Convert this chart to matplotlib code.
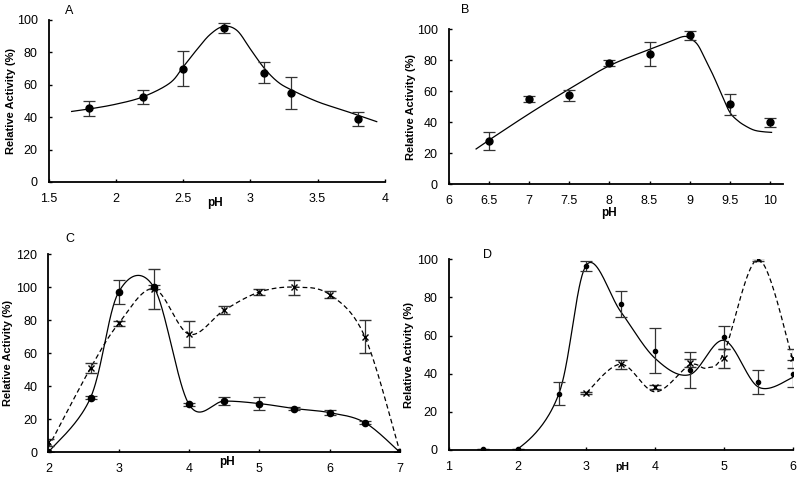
import numpy as np
import matplotlib
matplotlib.use('Agg')
import matplotlib.pyplot as plt

plt.rcParams['font.family'] = ['Liberation Sans', 'DejaVu Sans']

# Panel A
a_ph = [1.8, 2.2, 2.5, 2.8, 3.1, 3.3, 3.8]
a_act = [45.5, 52.5, 70, 95, 67.5, 55, 39]
a_err = [4.5, 4.5, 11, 3, 6.5, 10, 4.2]
a_fit_x = [1.67, 1.8, 2.0, 2.2, 2.4, 2.5, 2.6, 2.7, 2.8, 2.9, 3.0, 3.1, 3.2, 3.3, 3.5, 3.7, 3.94]
a_fit_y = [43.5, 45, 48, 52.5, 61, 71, 81.5, 91, 96, 93.5, 82, 70.5, 62, 57, 49.5, 44, 37.2]

# Panel B
b_ph = [6.5, 7, 7.5, 8, 8.5, 9, 9.5, 10]
b_act = [28, 55, 57.5, 78, 84, 96, 51.5, 40]
b_err = [6, 2, 3.5, 2, 7.5, 3, 7, 3]
b_fit_x = [6.34, 6.5, 7, 7.5, 8, 8.5, 8.75, 8.92, 9.0, 9.1, 9.2, 9.3, 9.4, 9.5, 9.6, 9.7, 9.8, 9.9, 10.02]
b_fit_y = [22.8, 28.5, 45.5, 61.5, 76.5, 87, 92, 95.3, 94.2, 90, 80, 69.5, 57.5, 46.5, 41, 37.5, 35, 34, 33.5]

# Panel C
c_ph = [2, 2.6, 3, 3.5, 4, 4.5, 5, 5.5, 6, 6.5, 7]
c_dot = [0, 33, 97, 100, 29, 31, 29.5, 26.5, 24, 18, 0]
c_dot_err = [0, 1, 7, 1, 1, 2.5, 4, 1, 1.5, 1, 0]
c_cross = [6, 51, 78, 99, 71.5, 86, 97, 100, 95.5, 70, 0]
c_cross_err = [2, 3, 1.5, 12, 8, 2.5, 2, 4.5, 2, 10, 0]
c_dash_x = [2, 2.6, 3, 3.5, 4, 4.5, 5, 5.5, 6, 6.5, 7]
c_dash_y = [3, 51, 78, 99, 71.5, 86, 97, 100, 95.5, 70, 0]

# Panel D
d_dot_ph = [1.5, 2, 2.6, 3, 3.5, 4, 4.5, 5, 5.5, 6]
d_dot = [0.7, 0.5, 29.5, 96.5, 76.5, 52, 42, 59, 35.5, 40]
d_dot_err = [0, 0, 6, 2.8, 7, 11.8, 9.5, 6, 6.3, 7]
d_cross_ph = [3, 3.5, 4, 4.5, 5, 5.5, 6]
d_cross = [30, 45, 33, 45.5, 48, 100, 48]
d_cross_err = [0.5, 2.3, 1, 2, 5, 0.8, 5]
d_solid_x = [1.5, 2, 2.6, 3, 3.5, 4, 4.5, 5, 5.5, 6]
d_solid_y = [0.5, 0.5, 29.5, 97, 72.5, 48, 39.5, 57.5, 33, 38]
d_dash_x = [3, 3.5, 4, 4.5, 4.75, 5, 5.5, 6]
d_dash_y = [30, 45, 30.5, 44.5, 43, 51, 100, 47.5]


# Excel-style smoothed line (Bezier through the knots)
def smooth(xs, ys, n=40):
    P = np.column_stack([xs, ys]).astype(float)
    E = np.vstack([P[0], P, P[-1]])
    t = np.linspace(0, 1, n)[:, None]
    segs = []
    for i in range(len(P) - 1):
        p0, p1, p2, p3 = E[i], E[i + 1], E[i + 2], E[i + 3]
        c1 = p1 + (p2 - p0) / 6
        c2 = p2 - (p3 - p1) / 6
        segs.append((1 - t)**3 * p1 + 3 * (1 - t)**2 * t * c1 + 3 * (1 - t) * t**2 * c2 + t**3 * p2)
    s = np.vstack(segs)
    return s[:, 0], s[:, 1]


def style(ax, xlim, ylim, xticks, yticks, labx):
    ax.set_xlim(*xlim)
    ax.set_ylim(*ylim)
    ax.set_xticks(xticks)
    ax.set_xticklabels(['%g' % v for v in xticks])
    ax.set_yticks(yticks)
    for s in ['top', 'right']:
        ax.spines[s].set_visible(False)
    for s in ['left', 'bottom']:
        ax.spines[s].set_linewidth(1.3)
    ax.tick_params(direction='in', length=2.5, width=1, labelsize=9, pad=8)
    ax.set_ylabel('Relative Activity (%)', fontsize=8, fontweight='bold', va='center')
    ax.yaxis.set_label_coords(labx, 0.5)


fig = plt.figure(figsize=(8, 4.8), dpi=100)
ekw = dict(ecolor='#333333', elinewidth=0.9, capsize=4.5, capthick=0.9, linestyle='none')
dash = (0, (3.8, 2.4))

# A
ax = fig.add_axes([0.061, 0.621, 0.42, 0.3375])
ax.plot(*smooth(a_fit_x, a_fit_y), color='black', lw=0.9)
ax.errorbar(a_ph, a_act, yerr=a_err, marker='o', ms=5, color='black', **ekw)
style(ax, (1.5, 4), (0, 100), [1.5, 2, 2.5, 3, 3.5, 4], range(0, 101, 20), -0.113)
fig.text(69 / 800, 1 - 11 / 480, 'A', fontsize=9, ha='center', va='center')
fig.text(215 / 800, 1 - 203 / 480, 'pH', fontsize=8.5, fontweight='bold', ha='center', va='center')

# B
ax = fig.add_axes([0.561, 0.616, 0.4175, 0.323])
ax.plot(*smooth(b_fit_x, b_fit_y), color='black', lw=0.9)
ax.errorbar(b_ph, b_act, yerr=b_err, marker='o', ms=5, color='black', **ekw)
style(ax, (6, 10.16), (0, 100), [6, 6.5, 7, 7.5, 8, 8.5, 9, 9.5, 10], range(0, 101, 20), -0.114)
fig.text(465 / 800, 1 - 10 / 480, 'B', fontsize=9, ha='center', va='center')
fig.text(609 / 800, 1 - 213 / 480, 'pH', fontsize=8.5, fontweight='bold', ha='center', va='center')

# C
ax = fig.add_axes([0.0604, 0.0577, 0.4396, 0.413])
ax.plot(*smooth(c_ph, c_dot), color='black', lw=0.9)
ax.plot(*smooth(c_dash_x, c_dash_y), color='black', lw=0.9, ls=dash)
ax.errorbar(c_ph, c_dot, yerr=c_dot_err, marker='o', ms=4.5, color='black', **ekw)
ax.errorbar(c_ph, c_cross, yerr=c_cross_err, marker='x', ms=4, mew=1, color='black', **ekw)
style(ax, (2, 7), (0, 120), [2, 3, 4, 5, 6, 7], range(0, 121, 20), -0.114)
fig.text(70 / 800, 1 - 239 / 480, 'C', fontsize=9, ha='center', va='center')
fig.text(227 / 800, 1 - 462 / 480, 'pH', fontsize=8.5, fontweight='bold', ha='center', va='center')

# D
ax = fig.add_axes([0.561, 0.0625, 0.43, 0.3973])
ax.plot(*smooth(d_solid_x, d_solid_y), color='black', lw=0.9)
ax.plot(*smooth(d_dash_x, d_dash_y), color='black', lw=0.9, ls=dash)
ax.errorbar(d_dot_ph, d_dot, yerr=d_dot_err, marker='o', ms=3, color='black', **ekw)
ax.errorbar(d_cross_ph, d_cross, yerr=d_cross_err, marker='x', ms=4, mew=1, color='black', **ekw)
style(ax, (1, 6), (0, 100), [1, 2, 3, 4, 5, 6], range(0, 101, 20), -0.116)
fig.text(487 / 800, 1 - 255 / 480, 'D', fontsize=9, ha='center', va='center')
fig.text(622 / 800, 1 - 467 / 480, 'pH', fontsize=7.5, fontweight='bold', ha='center', va='center')

fig.savefig('out.png', dpi=100)
